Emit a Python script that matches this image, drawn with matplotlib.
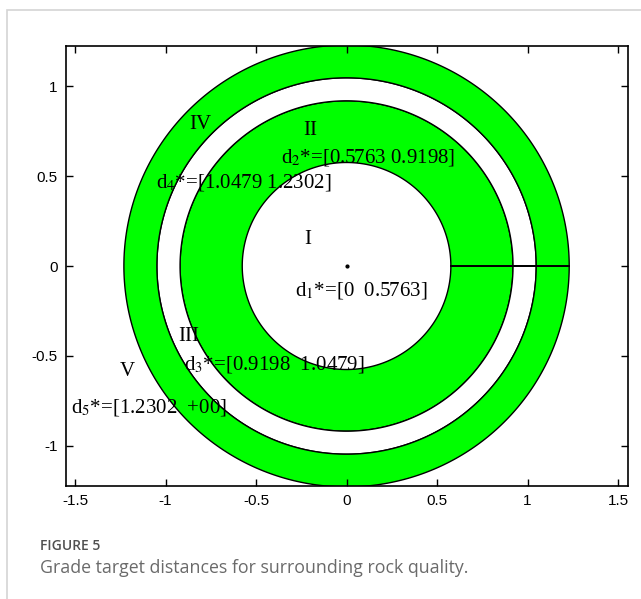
import numpy as np
import matplotlib.pyplot as plt
from matplotlib.patches import Rectangle

# grade boundaries (target distance intervals)
bounds = [0, 0.5763, 0.9198, 1.0479, 1.2302]
grades = ["I", "II", "III", "IV", "V"]
ring_colors = ["white", "#00ff00", "white", "#00ff00"]
interval_labels = [
    r"d$_{1}$*=[0  0.5763]",
    r"d$_{2}$*=[0.5763 0.9198]",
    r"d$_{3}$*=[0.9198  1.0479]",
    r"d$_{4}$*=[1.0479 1.2302]",
    r"d$_{5}$*=[1.2302  +00]",
]
grade_pos = [(-0.215, 0.145), (-0.2, 0.755), (-0.87, -0.39), (-0.81, 0.79), (-1.21, -0.585)]
label_pos = [(-0.285, -0.135), (-0.36, 0.605), (-0.9, -0.55), (-1.055, 0.465), (-1.52, -0.79)]

plt.rcParams["mathtext.fontset"] = "stix"

fig = plt.figure(figsize=(6.41, 5.99), dpi=100)

# light card frame
fig.patches.append(Rectangle((7 / 641, -0.1), 1.2, 1 - 10 / 599 + 0.1, transform=fig.transFigure,
                             fill=False, edgecolor="#d4d4d4", linewidth=1.2))

ax = fig.add_axes([66 / 641, 1 - 486 / 599, 562 / 641, 440 / 599])

theta = np.linspace(0, 2 * np.pi, 400)
for i in range(len(bounds) - 1):
    r_in, r_out = bounds[i], bounds[i + 1]
    if r_in == 0:
        continue
    xs = np.concatenate([r_out * np.cos(theta), r_in * np.cos(theta[::-1])])
    ys = np.concatenate([r_out * np.sin(theta), r_in * np.sin(theta[::-1])])
    ax.fill(xs, ys, facecolor=ring_colors[i], edgecolor="black", linewidth=1.0)

ax.plot([0], [0], marker="o", color="black", markersize=2)

for g, (gx, gy) in zip(grades, grade_pos):
    ax.text(gx, gy, g, fontsize=15, family="Liberation Serif", ha="center", va="center")
for lab, (lx, ly) in zip(interval_labels, label_pos):
    ax.text(lx, ly, lab, fontsize=15, family="Liberation Serif", ha="left", va="center")

ax.set_xlim(-1.55, 1.555)
ax.set_ylim(-1.225, 1.225)
ax.set_xticks([-1.5, -1, -0.5, 0, 0.5, 1, 1.5])
ax.set_xticklabels(["-1.5", "-1", "-0.5", "0", "0.5", "1", "1.5"])
ax.set_yticks([-1, -0.5, 0, 0.5, 1])
ax.set_yticklabels(["-1", "-0.5", "0", "0.5", "1"])
ax.tick_params(direction="in", length=5, width=1, top=True, right=True,
               labelsize=11, pad=6)
for t in ax.get_xticklabels() + ax.get_yticklabels():
    t.set_family("Liberation Sans")
for s in ax.spines.values():
    s.set_linewidth(1.2)

fig.text(40 / 641, 1 - 546 / 599, "FIGURE 5", fontsize=10, color="#505050",
         family="Open Sans", weight="semibold", va="center")
fig.text(40 / 641, 1 - 568 / 599, "Grade target distances for surrounding rock quality.",
         fontsize=12.8, color="#6a6a6a", family="Open Sans", va="center")

fig.savefig("out.png", dpi=100)
